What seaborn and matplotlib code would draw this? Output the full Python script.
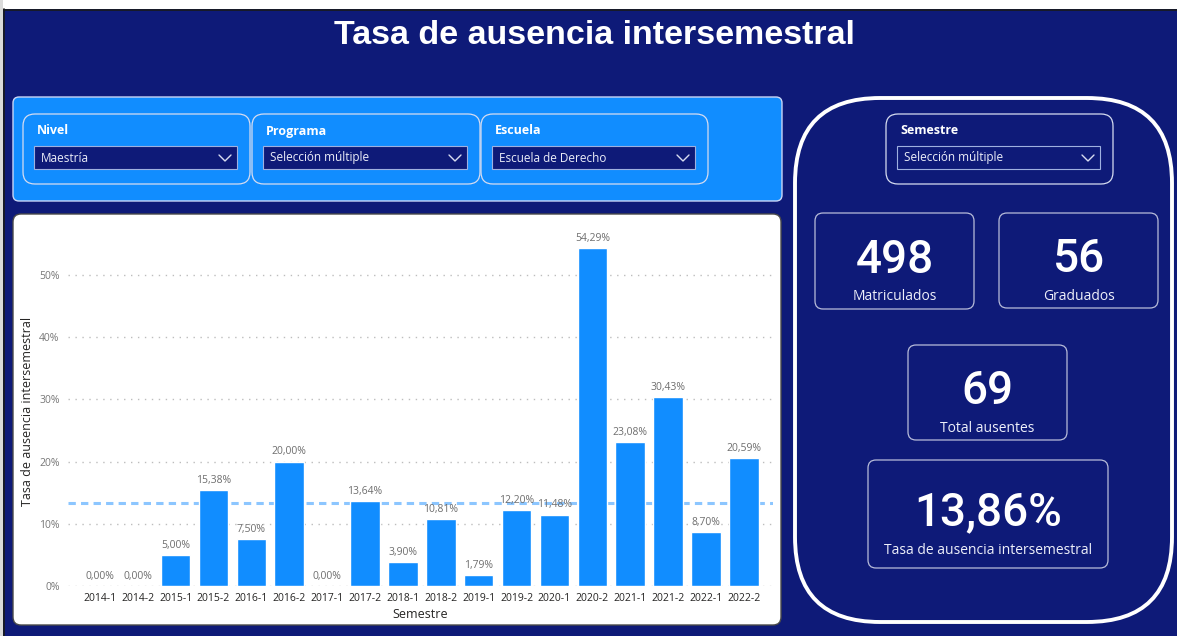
import numpy as np
import pandas as pd
import matplotlib
matplotlib.use("Agg")
import matplotlib.pyplot as plt
from matplotlib.patches import FancyBboxPatch, Rectangle
from matplotlib.ticker import FixedLocator, FuncFormatter
import seaborn as sns

# ---------------- data ----------------
semestres = ["2014-1", "2014-2", "2015-1", "2015-2", "2016-1", "2016-2",
             "2017-1", "2017-2", "2018-1", "2018-2", "2019-1", "2019-2",
             "2020-1", "2020-2", "2021-1", "2021-2", "2022-1", "2022-2"]
tasas = [0.0000, 0.0000, 0.0500, 0.1538, 0.0750, 0.2000,
         0.0000, 0.1364, 0.0390, 0.1081, 0.0179, 0.1220,
         0.1148, 0.5429, 0.2308, 0.3043, 0.0870, 0.2059]
y_ticks = [0.0, 0.1, 0.2, 0.3, 0.4, 0.5]

filtros = [("Nivel", "Maestría"),
           ("Programa", "Selección múltiple"),
           ("Escuela", "Escuela de Derecho")]
filtro_semestre = ("Semestre", "Selección múltiple")

matriculados = 498
graduados = 56
ausentes = 69
tasa_total = ausentes / matriculados

titulo = "Tasa de ausencia intersemestral"

# ---------------- style ----------------
NAVY = "#0E1A78"
BLUE = "#118DFF"
W, H = 1177, 636

sns.set_theme(style="white")
plt.rcParams["font.family"] = ["Open Sans", "DejaVu Sans"]


def pct(v, dec=2):
    return f"{v * 100:.{dec}f}".replace(".", ",") + "%"


fig = plt.figure(figsize=(W / 100, H / 100), dpi=100, facecolor=NAVY)

# background canvas in pixel units (origin top-left)
bg = fig.add_axes([0, 0, 1, 1])
bg.set_xlim(0, W)
bg.set_ylim(H, 0)
bg.axis("off")
bg.set_facecolor(NAVY)


def rbox(x0, y0, x1, y1, r, fc="none", ec="none", lw=1.0, z=1):
    p = FancyBboxPatch((x0, y0), x1 - x0, y1 - y0,
                       boxstyle=f"round,pad=0,rounding_size={r}",
                       fc=fc, ec=ec, lw=lw, zorder=z)
    bg.add_patch(p)
    return p


def chevron(cx, cy, color="#d8dcf0"):
    bg.plot([cx - 6, cx, cx + 6], [cy - 3, cy + 3, cy - 3],
            color=color, lw=1.0, zorder=5, solid_capstyle="round")


def dropdown(x0, y0, x1, y1, label, value):
    rbox(x0, y0, x1, y1, 12, ec="#D6DCF0", lw=0.9, z=3)
    bg.text(x0 + 14, y0 + 17, label, color="white", fontsize=9,
            fontweight="bold", va="center", ha="left", zorder=5)
    bg.add_patch(Rectangle((x0 + 11, y0 + 32), x1 - x0 - 24, 23,
                           fc=NAVY, ec="#9FB0E0", lw=0.8, zorder=4))
    bg.text(x0 + 18, y0 + 44, value, color="#ECEEF8", fontsize=8.5,
            va="center", ha="left", zorder=5)
    chevron(x1 - 25, y0 + 44)


# frame edges
bg.add_patch(Rectangle((0, 0), W, 9, fc="white", ec="none", zorder=1))
bg.add_patch(Rectangle((0, 0), 3, H, fc="#DADADA", ec="none", zorder=1))
bg.plot([3.5, 3.5], [9, H], color="#1A1A1A", lw=1.2, zorder=2)
bg.plot([3.5, W], [9.5, 9.5], color="#1A1A1A", lw=1.2, zorder=2)

# title
bg.text(594, 35, titulo, color="white", fontsize=24.5, fontweight="bold",
        family=["Liberation Sans", "DejaVu Sans"], ha="center", va="center",
        zorder=5)

# filter band
rbox(13, 97, 782, 201, 6, fc=BLUE, ec="#C9D6F5", lw=1.0, z=2)
box_x = [(23, 250), (252, 480), (481, 708)]
for (x0, x1), (lab, val) in zip(box_x, filtros):
    dropdown(x0, 114, x1, 184, lab, val)

# chart panel
rbox(13, 214, 781, 625, 8, fc="white", ec="#4A4A4A", lw=1.0, z=2)

# right panel
rbox(795, 98, 1172, 622, 85, ec="white", lw=2.8, z=2)
dropdown(886, 114, 1113, 184, *filtro_semestre)

kpis = [
    ((815, 213, 974, 309), f"{matriculados}", "Matriculados"),
    ((999, 213, 1158, 308), f"{graduados}", "Graduados"),
    ((908, 345, 1067, 440), f"{ausentes}", "Total ausentes"),
    ((868, 460, 1108, 568), pct(tasa_total), titulo),
]
for (x0, y0, x1, y1), num, lab in kpis:
    rbox(x0, y0, x1, y1, 8, ec="#B8BCDA", lw=0.9, z=3)
    cx = (x0 + x1) / 2
    big = y1 - y0 > 100
    bg.text(cx, y1 - (56 if big else 49), num, color="white", fontsize=33,
            fontweight="medium", family=["Roboto", "DejaVu Sans"],
            ha="center", va="center", zorder=5)
    bg.text(cx, y1 - (18 if big else 12), lab, color="#EEF0FA", fontsize=10,
            ha="center", va="center", zorder=5)

# ---------------- bar chart ----------------
ax_left, ax_right = 68, 773
ax_bottom, ax_top = 586, 237.7
ax = fig.add_axes([ax_left / W, (H - ax_bottom) / H,
                   (ax_right - ax_left) / W, (ax_bottom - ax_top) / H])
ax.set_facecolor("none")

df = pd.DataFrame({"Semestre": semestres, "Tasa": tasas})
sns.barplot(data=df, x="Semestre", y="Tasa", color=BLUE, saturation=1,
            width=0.78, ax=ax, zorder=2)

ax.set_ylim(0, 0.56)
ax.set_xlim(-0.84, 17.77)
ax.yaxis.set_major_locator(FixedLocator(y_ticks))
ax.yaxis.set_major_formatter(FuncFormatter(lambda v, _: f"{v * 100:.0f}%"))
ax.yaxis.grid(True, linestyle=(0, (1, 4)), color="#BDBDBD", lw=1.0)
ax.xaxis.grid(False)
ax.set_axisbelow(True)
for s in ax.spines.values():
    s.set_visible(False)
ax.tick_params(axis="y", length=0, pad=6, labelsize=7.5, labelcolor="#777777")
ax.tick_params(axis="x", length=0, pad=5, labelsize=7.5, labelcolor="#252423")

ax.axhline(np.mean(tasas), color="#8CC6FF", lw=2.2,
           linestyle=(0, (2.4, 1.7)), zorder=1.5)

ax.bar_label(ax.containers[0], labels=[pct(v) for v in tasas], padding=3,
             fontsize=7.5, color="#6E6E6E")

ax.set_xlabel("Semestre", fontsize=9, color="#252423", labelpad=3)
ax.set_ylabel("Tasa de ausencia intersemestral", fontsize=9, color="#252423",
              labelpad=4)

fig.savefig("out.png", dpi=100, facecolor=NAVY)
